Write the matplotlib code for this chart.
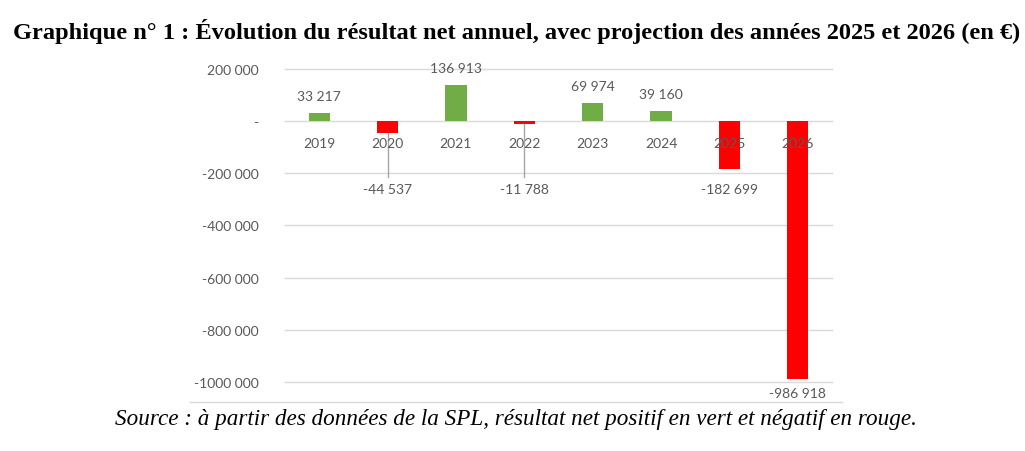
import numpy as np
import matplotlib.pyplot as plt
from matplotlib.lines import Line2D

years = ["2019", "2020", "2021", "2022", "2023", "2024", "2025", "2026"]
resultat = [33217, -44537, 136913, -11788, 69974, 39160, -182699, -986918]
labels = ["33 217", "-44 537", "136 913", "-11 788", "69 974", "39 160", "-182 699", "-986 918"]
ytick_values = [200000, 0, -200000, -400000, -600000, -800000, -1000000]
ytick_labels = ["200 000", "-", "-200 000", "-400 000", "-600 000", "-800 000", "-1000 000"]

green = "#70AD47"
red = "#FF0000"
grey_text = "#595959"
grid_col = "#D9D9D9"

fig = plt.figure(figsize=(10.25, 4.52), dpi=100)
ax = fig.add_axes([285 / 1025, 1 - 383 / 452, (832 - 285) / 1025, (383 - 70) / 452])

x = np.arange(len(years))
colors = [green if v >= 0 else red for v in resultat]
ax.bar(x, resultat, width=0.31, color=colors, zorder=2)

ax.set_xlim(-0.5, len(years) - 0.5)
ax.set_ylim(-1000000, 200000)
ax.set_yticks(ytick_values)
ax.set_yticklabels(ytick_labels, fontfamily="Lato", fontsize=10, color=grey_text)
ax.tick_params(axis="y", length=0, pad=19)
ax.set_xticks([])
for s in ax.spines.values():
    s.set_visible(False)
for v in ytick_values:
    ax.axhline(v, color=grid_col, linewidth=1, zorder=1, clip_on=False)

# category labels just below the zero line
for xi, yr in zip(x, years):
    ax.annotate(yr, (xi, 0), xytext=(0, -22), textcoords="offset pixels",
                ha="center", va="center", fontfamily="Lato", fontsize=10,
                color=grey_text, zorder=5)

# data labels
for xi, v, lab in zip(x, resultat, labels):
    if v >= 0:
        ax.annotate(lab, (xi, v), xytext=(0, 17), textcoords="offset pixels",
                    ha="center", va="center", fontfamily="Lato", fontsize=10,
                    color=grey_text)
    else:
        anchor = min(v, -200000)
        off = -16 if v > -500000 else -14
        ax.annotate(lab, (xi, anchor), xytext=(0, off), textcoords="offset pixels",
                    ha="center", va="center", fontfamily="Lato", fontsize=10,
                    color=grey_text)
        if v > -100000:
            # leader line to the moved label
            ax.plot([xi, xi], [v, -215000], color="#A6A6A6", linewidth=1, zorder=3)

fig.add_artist(Line2D([190 / 1025, 842 / 1025], [1 - 403 / 452, 1 - 403 / 452],
                      color=grid_col, linewidth=1))

fig.text(517 / 1025, 1 - 31 / 452,
         "Graphique n° 1 : Évolution du résultat net annuel, avec projection des années 2025 et 2026 (en €)",
         ha="center", va="center", fontfamily="Liberation Serif", fontweight="bold", fontsize=17.6)
fig.text(516 / 1025, 1 - 420 / 452,
         "Source : à partir des données de la SPL, résultat net positif en vert et négatif en rouge.",
         ha="center", va="center", fontfamily="Liberation Serif", fontstyle="italic", fontsize=16.7)

fig.savefig("out.png", dpi=100)
